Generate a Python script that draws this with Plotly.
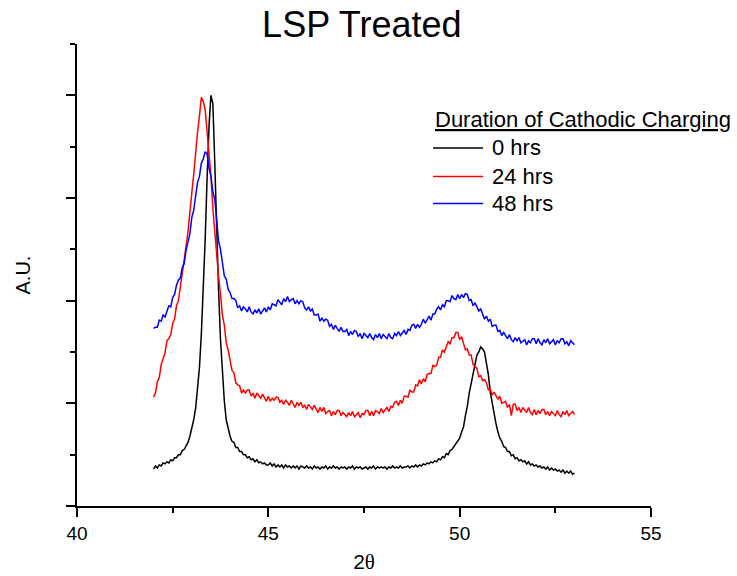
import numpy as np
import plotly.graph_objects as go

# 2-theta scan grid: 42.00 .. 53.00 in 0.05 degree steps
two_theta = np.round(42.0 + 0.05 * np.arange(221), 2)

# Intensities (arbitrary units), one block of 20 points per degree
hrs_0 = [
    0.36, 0.39, 0.37, 0.40, 0.39, 0.42, 0.41, 0.43, 0.42, 0.45, 0.44, 0.47, 0.47, 0.50, 0.50, 0.54, 0.55, 0.59, 0.62, 0.68,
    0.75, 0.84, 0.95, 1.12, 1.35, 1.68, 2.10, 2.60, 3.20, 3.70, 4.00, 3.92, 3.35, 2.65, 2.10, 1.62, 1.27, 1.02, 0.84, 0.75,
    0.68, 0.63, 0.62, 0.57, 0.57, 0.53, 0.53, 0.50, 0.50, 0.47, 0.48, 0.45, 0.46, 0.43, 0.45, 0.42, 0.43, 0.41, 0.42, 0.40,
    0.40, 0.42, 0.39, 0.41, 0.38, 0.40, 0.38, 0.40, 0.37, 0.40, 0.38, 0.39, 0.37, 0.39, 0.37, 0.39, 0.36, 0.39, 0.38, 0.37,
    0.39, 0.37, 0.38, 0.36, 0.39, 0.37, 0.38, 0.36, 0.38, 0.37, 0.39, 0.36, 0.38, 0.37, 0.39, 0.37, 0.38, 0.36, 0.38, 0.37,
    0.38, 0.36, 0.38, 0.37, 0.39, 0.36, 0.38, 0.37, 0.38, 0.36, 0.37, 0.38, 0.36, 0.38, 0.37, 0.39, 0.36, 0.38, 0.37, 0.38,
    0.37, 0.38, 0.36, 0.38, 0.37, 0.39, 0.37, 0.38, 0.37, 0.39, 0.37, 0.38, 0.38, 0.39, 0.37, 0.39, 0.38, 0.40, 0.38, 0.40,
    0.39, 0.41, 0.40, 0.42, 0.41, 0.43, 0.42, 0.44, 0.43, 0.46, 0.45, 0.48, 0.47, 0.51, 0.50, 0.54, 0.55, 0.58, 0.60, 0.63,
    0.66, 0.72, 0.77, 0.88, 0.97, 1.10, 1.19, 1.31, 1.38, 1.47, 1.50, 1.55, 1.53, 1.50, 1.39, 1.28, 1.11, 1.00, 0.87, 0.80,
    0.72, 0.66, 0.63, 0.58, 0.57, 0.53, 0.53, 0.49, 0.50, 0.46, 0.47, 0.44, 0.45, 0.43, 0.44, 0.41, 0.43, 0.40, 0.41, 0.39,
    0.40, 0.38, 0.39, 0.37, 0.38, 0.36, 0.38, 0.35, 0.37, 0.35, 0.36, 0.34, 0.35, 0.33, 0.35, 0.32, 0.34, 0.32, 0.34, 0.31,
    0.32,
]

hrs_24 = [
    1.06, 1.10, 1.21, 1.25, 1.38, 1.44, 1.49, 1.61, 1.63, 1.67, 1.78, 1.82, 1.95, 2.00, 2.13, 2.27, 2.35, 2.53, 2.67, 2.89,
    3.05, 3.23, 3.48, 3.64, 3.80, 3.98, 3.94, 3.86, 3.64, 3.45, 3.22, 2.90, 2.65, 2.39, 2.23, 2.06, 1.86, 1.76, 1.59, 1.52,
    1.42, 1.32, 1.30, 1.20, 1.18, 1.17, 1.10, 1.13, 1.10, 1.13, 1.13, 1.07, 1.10, 1.05, 1.10, 1.07, 1.05, 1.09, 1.05, 1.02,
    1.07, 1.02, 1.05, 1.03, 1.06, 1.06, 1.01, 1.03, 0.99, 1.03, 1.01, 0.98, 1.03, 0.99, 0.96, 1.01, 0.98, 1.01, 0.96, 0.98,
    0.94, 0.99, 0.96, 0.94, 0.98, 0.94, 0.91, 0.96, 0.92, 0.96, 0.90, 0.92, 0.93, 0.88, 0.92, 0.89, 0.93, 0.93, 0.88, 0.91,
    0.89, 0.87, 0.91, 0.88, 0.92, 0.87, 0.89, 0.91, 0.86, 0.90, 0.89, 0.93, 0.93, 0.88, 0.92, 0.88, 0.93, 0.92, 0.90, 0.95,
    0.91, 0.93, 0.96, 0.92, 0.97, 0.96, 1.01, 1.02, 0.98, 1.03, 1.00, 1.07, 1.07, 1.06, 1.13, 1.11, 1.11, 1.18, 1.17, 1.23,
    1.19, 1.24, 1.21, 1.28, 1.29, 1.29, 1.37, 1.36, 1.37, 1.45, 1.45, 1.52, 1.50, 1.55, 1.60, 1.58, 1.64, 1.64, 1.69, 1.69,
    1.62, 1.65, 1.58, 1.52, 1.53, 1.47, 1.47, 1.38, 1.36, 1.34, 1.26, 1.27, 1.22, 1.23, 1.20, 1.13, 1.14, 1.08, 1.11, 1.07,
    1.04, 1.07, 1.00, 1.01, 1.02, 0.96, 0.99, 0.88, 0.99, 0.99, 0.93, 0.96, 0.91, 0.96, 0.93, 0.91, 0.96, 0.91, 0.89, 0.94,
    0.89, 0.93, 0.90, 0.94, 0.94, 0.89, 0.92, 0.88, 0.92, 0.90, 0.88, 0.93, 0.89, 0.87, 0.92, 0.89, 0.93, 0.88, 0.90, 0.92,
    0.89,
]

hrs_48 = [
    1.73, 1.74, 1.74, 1.81, 1.80, 1.86, 1.84, 1.89, 1.95, 1.94, 2.03, 2.06, 2.15, 2.20, 2.22, 2.32, 2.36, 2.49, 2.56, 2.65,
    2.81, 2.88, 3.02, 3.15, 3.21, 3.34, 3.38, 3.45, 3.43, 3.29, 3.21, 3.06, 2.99, 2.80, 2.58, 2.50, 2.35, 2.24, 2.21, 2.11,
    2.08, 2.02, 2.02, 2.00, 1.93, 1.95, 1.90, 1.94, 1.92, 1.89, 1.94, 1.89, 1.87, 1.91, 1.88, 1.92, 1.87, 1.90, 1.93, 1.89,
    1.94, 1.91, 1.97, 1.96, 1.95, 2.01, 1.98, 1.96, 2.02, 1.99, 2.04, 1.99, 2.01, 2.02, 1.97, 2.00, 1.97, 2.00, 1.99, 1.93,
    1.91, 1.94, 1.90, 1.92, 1.86, 1.86, 1.87, 1.80, 1.83, 1.80, 1.82, 1.81, 1.75, 1.77, 1.72, 1.76, 1.73, 1.70, 1.74, 1.70,
    1.70, 1.72, 1.66, 1.70, 1.67, 1.71, 1.70, 1.65, 1.68, 1.63, 1.68, 1.66, 1.64, 1.68, 1.64, 1.62, 1.67, 1.64, 1.68, 1.63,
    1.67, 1.65, 1.63, 1.68, 1.64, 1.63, 1.68, 1.66, 1.70, 1.66, 1.69, 1.71, 1.67, 1.72, 1.71, 1.76, 1.77, 1.73, 1.77, 1.74,
    1.77, 1.82, 1.78, 1.81, 1.85, 1.81, 1.87, 1.87, 1.92, 1.94, 1.91, 1.96, 1.94, 2.00, 2.00, 1.99, 2.05, 2.02, 2.01, 2.06,
    2.02, 2.06, 2.03, 2.07, 2.06, 2.00, 2.01, 1.95, 1.98, 1.94, 1.90, 1.92, 1.86, 1.82, 1.85, 1.80, 1.82, 1.75, 1.76, 1.76,
    1.70, 1.71, 1.66, 1.69, 1.66, 1.63, 1.67, 1.62, 1.60, 1.64, 1.61, 1.64, 1.59, 1.61, 1.62, 1.57, 1.61, 1.59, 1.63, 1.63,
    1.58, 1.63, 1.59, 1.57, 1.62, 1.59, 1.63, 1.58, 1.60, 1.62, 1.57, 1.61, 1.59, 1.63, 1.63, 1.58, 1.60, 1.56, 1.61, 1.59,
    1.57,
]

series_names = ["0 hrs", "24 hrs", "48 hrs"]
series_colors = ["#000000", "#ff0000", "#0000ff"]
legend_title = "Duration of Cathodic Charging"

FONT = "Liberation Sans, Arial, sans-serif"

fig = go.Figure()
for name, ys, col in zip(series_names, [hrs_0, hrs_24, hrs_48], series_colors):
    fig.add_trace(go.Scatter(
        x=two_theta, y=ys, mode="lines", name=name, showlegend=False,
        line=dict(color=col, width=1.5),
    ))

# Legend block drawn in paper coordinates: underlined heading, then one
# 50 px line sample plus label per series.
leg_x0, leg_x1, leg_text_x = 0.6203, 0.7075, 0.7197
leg_title_y = 0.8355
leg_row_y = [0.7749, 0.7132, 0.6548]

annotations = [dict(
    text=f"<u>{legend_title}</u>", xref="paper", yref="paper",
    x=leg_x0, y=leg_title_y, xanchor="left", yanchor="middle",
    showarrow=False, font=dict(size=22, family=FONT, color="black"),
)]
shapes = []
for name, col, yy in zip(series_names, series_colors, leg_row_y):
    shapes.append(dict(type="line", xref="paper", yref="paper",
                       x0=leg_x0, x1=leg_x1, y0=yy, y1=yy,
                       line=dict(color=col, width=1.3)))
    annotations.append(dict(
        text=name, xref="paper", yref="paper", x=leg_text_x, y=yy,
        xanchor="left", yanchor="middle", showarrow=False,
        font=dict(size=22, family=FONT, color="black"),
    ))

axis_common = dict(
    showline=True, linecolor="black", linewidth=1.6,
    ticks="outside", ticklen=9, tickwidth=1.6, tickcolor="black",
    showgrid=False, zeroline=False, mirror=False, automargin=False,
)

fig.update_layout(
    width=737, height=576,
    margin=dict(l=77, r=86, t=44, b=70),
    paper_bgcolor="white", plot_bgcolor="white",
    font=dict(family=FONT, color="black", size=19),
    title=dict(text="LSP Treated", x=0.491, xanchor="center", y=0.958, yanchor="middle",
               font=dict(size=36, family=FONT)),
    xaxis=dict(
        range=[40, 55], tickmode="linear", tick0=40, dtick=5,
        minor=dict(ticks="outside", ticklen=5, tickwidth=1.6, tickcolor="black", dtick=2.5),
        tickfont=dict(size=19),
        title=dict(text="2<span style='font-family:Liberation Serif'>θ</span>",
                   standoff=12, font=dict(size=21)),
        **axis_common,
    ),
    yaxis=dict(
        range=[0, 4.5], tickmode="linear", tick0=0, dtick=1,
        minor=dict(ticks="outside", ticklen=5, tickwidth=1.6, tickcolor="black", dtick=0.5),
        showticklabels=False,
        title=dict(text="A.U.", standoff=30, font=dict(size=20)),
        **axis_common,
    ),
    shapes=shapes,
    annotations=annotations,
    showlegend=False,
)

fig.write_html("out.html")
